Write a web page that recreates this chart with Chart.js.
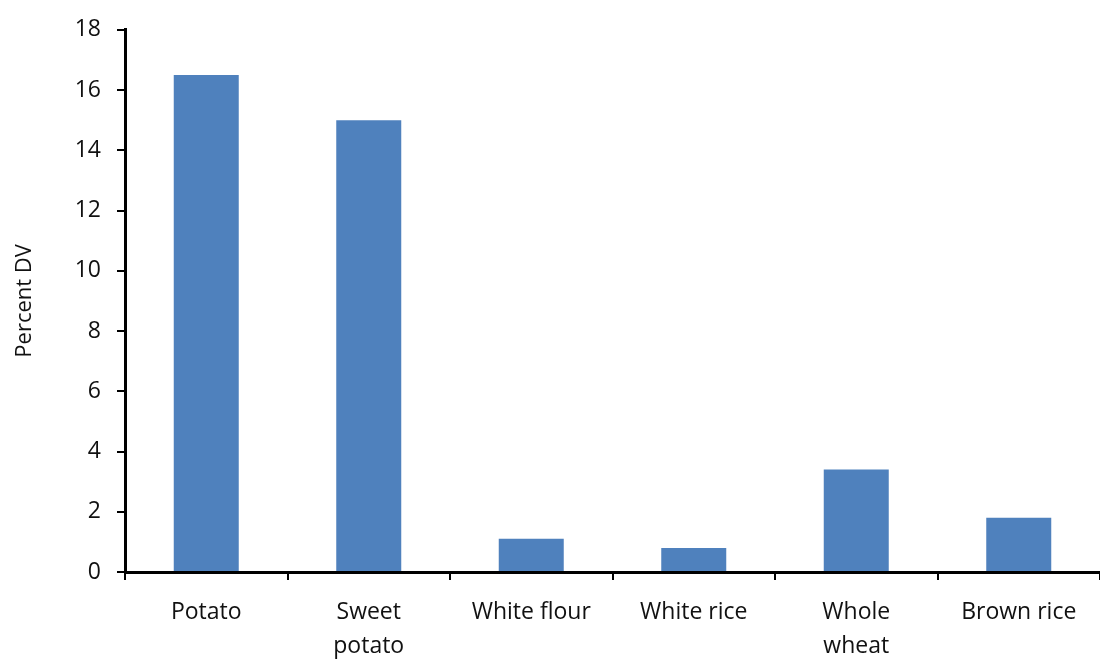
<!DOCTYPE html>
<html>
<head>
<meta charset="utf-8">
<script src="https://cdn.jsdelivr.net/npm/chart.js@4/dist/chart.umd.min.js"></script>
<style>
	html, body { margin: 0; padding: 0; background: #fff; }
	#wrap { width: 1100px; height: 666px; }
</style>
</head>
<body>
<div id="wrap"><canvas id="myChart"></canvas></div>
<script>
/* Chart data */
const foods = ['Potato', ['Sweet', 'potato'], 'White flour', 'White rice', ['Whole', 'wheat'], 'Brown rice'];
const percentDV = [16.5, 15.0, 1.1, 0.8, 3.4, 1.8];
const yTicks = [0, 2, 4, 6, 8, 10, 12, 14, 16, 18];

// Colors
const barColor = 'rgb(79, 129, 189)';
const axisColor = '#000';

const chartContainer = document.getElementById('myChart').getContext('2d');
Chart.defaults.font.family = "'Open Sans', 'Noto Sans', sans-serif";
Chart.defaults.color = '#111';

const chartConfig = {
	type: 'bar',
	data: {
		labels: foods,
		datasets: [
			{
				data: percentDV,
				backgroundColor: barColor,
				categoryPercentage: 1,
				barPercentage: 0.4,
			},
		],
	},
	options: {
		responsive: true,
		maintainAspectRatio: false,
		animation: false,
		layout: {
			padding: { top: 25, right: 0, left: 0, bottom: 0 },
		},
		scales: {
			x: {
				grid: {
					drawOnChartArea: false,
					color: axisColor,
					lineWidth: 2,
					tickLength: 8,
				},
				border: { color: axisColor, width: 3 },
				ticks: {
					font: { size: 23, lineHeight: 1.5 },
					padding: 15,
					maxRotation: 0,
					autoSkip: false,
				},
				afterFit: function (scale) {
					scale.height = 94;
				},
			},
			y: {
				min: 0,
				max: 18,
				afterBuildTicks: function (scale) {
					scale.ticks = yTicks.map((v) => ({ value: v }));
				},
				grid: {
					drawOnChartArea: false,
					color: axisColor,
					lineWidth: 2,
					tickLength: 8,
				},
				border: { color: axisColor, width: 3 },
				ticks: {
					font: { size: 23 },
					padding: 16,
				},
				title: {
					display: true,
					text: 'Percent DV',
					font: { size: 22 },
					padding: { top: 12, bottom: 4 },
				},
				afterFit: function (scale) {
					scale.width = 125;
				},
			},
		},
		plugins: {
			legend: { display: false },
			tooltip: { enabled: false },
		},
	},
};

const myChart = new Chart(chartContainer, chartConfig);
</script>
</body>
</html>
